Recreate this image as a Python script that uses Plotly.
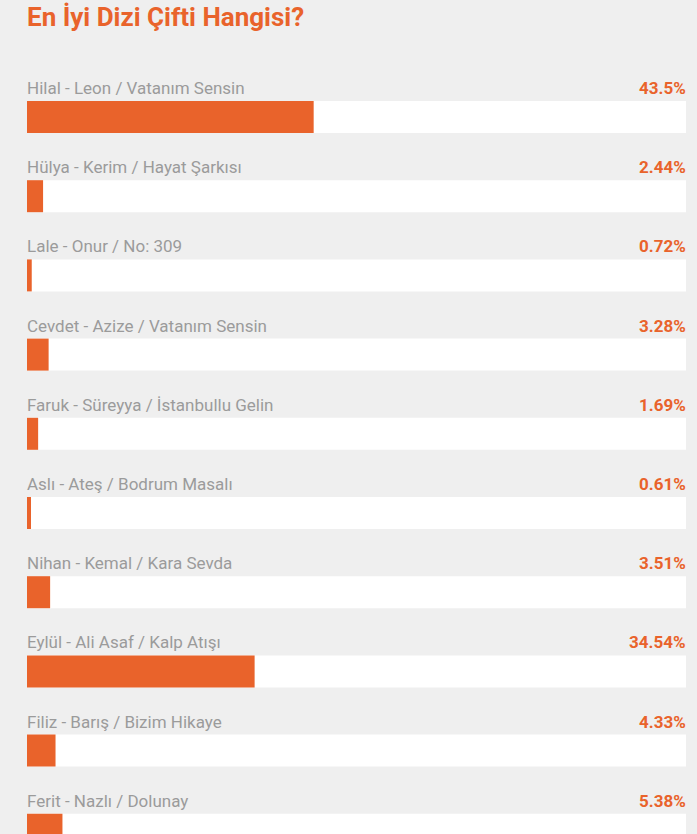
import plotly.graph_objects as go

title = "En İyi Dizi Çifti Hangisi?"
labels = [
    "Hilal - Leon / Vatanım Sensin",
    "Hülya - Kerim / Hayat Şarkısı",
    "Lale - Onur / No: 309",
    "Cevdet - Azize / Vatanım Sensin",
    "Faruk - Süreyya / İstanbullu Gelin",
    "Aslı - Ateş / Bodrum Masalı",
    "Nihan - Kemal / Kara Sevda",
    "Eylül - Ali Asaf / Kalp Atışı",
    "Filiz - Barış / Bizim Hikaye",
    "Ferit - Nazlı / Dolunay",
]
values = [43.5, 2.44, 0.72, 3.28, 1.69, 0.61, 3.51, 34.54, 4.33, 5.38]
value_text = ["43.5%", "2.44%", "0.72%", "3.28%", "1.69%", "0.61%", "3.51%", "34.54%", "4.33%", "5.38%"]

ORANGE = "#e9632b"
BG = "#efefef"
GRAY = "#9b9b9b"

W, H = 697, 834
pitch = 79.2
first_center = 117
bar_h = 32

ys = list(range(len(labels)))

fig = go.Figure()
fig.add_trace(go.Bar(
    x=[100] * len(labels), y=ys, orientation="h",
    marker=dict(color="white", line=dict(width=0)),
    width=bar_h / pitch, hoverinfo="skip", showlegend=False,
))
fig.add_trace(go.Bar(
    x=values, y=ys, orientation="h",
    marker=dict(color=ORANGE, line=dict(width=0)),
    width=bar_h / pitch, hoverinfo="skip", showlegend=False,
))

for i, (lab, vt) in enumerate(zip(labels, value_text)):
    fig.add_annotation(x=0, y=i, xref="x", yref="y", text=lab, showarrow=False,
                       xanchor="left", yanchor="middle", yshift=29, xshift=-2,
                       font=dict(family="Roboto", size=17, color=GRAY))
    fig.add_annotation(x=100, y=i, xref="x", yref="y", text="<b>" + vt + "</b>", showarrow=False,
                       xanchor="right", yanchor="middle", yshift=29, xshift=2,
                       font=dict(family="Roboto", size=17, color=ORANGE))

fig.add_annotation(x=0, y=1 - 17 / H, xref="paper", yref="paper",
                   text="<b>" + title + "</b>", showarrow=False,
                   xanchor="left", yanchor="middle", xshift=-2,
                   font=dict(family="Roboto", size=26, color=ORANGE))

y_top = -first_center / pitch
y_bot = (H - first_center) / pitch

fig.update_layout(
    width=W, height=H,
    margin=dict(l=27, r=11, t=0, b=0),
    paper_bgcolor=BG, plot_bgcolor=BG,
    barmode="overlay",
    xaxis=dict(range=[0, 100], visible=False, fixedrange=True),
    yaxis=dict(range=[y_bot, y_top], visible=False, fixedrange=True),
    showlegend=False,
)

fig.write_html("out.html", config={"displayModeBar": False})
